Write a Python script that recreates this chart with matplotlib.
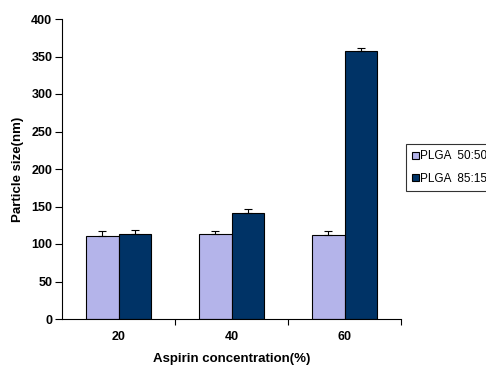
import numpy as np
import matplotlib
matplotlib.use("Agg")
import matplotlib.pyplot as plt

plt.rcParams['font.family'] = ['Liberation Sans', 'DejaVu Sans']

categories = ["20", "40", "60"]
plga_5050 = [111, 114, 112]
plga_5050_err = [6, 4, 5]
plga_8515 = [114, 141, 358]
plga_8515_err = [5, 6, 4]
series_names = ["PLGA  50:50", "PLGA  85:15"]

fig = plt.figure(figsize=(4.86, 3.66), dpi=100)
ax = fig.add_axes([62 / 486, 47 / 366, 339 / 486, 300 / 366])

x = np.arange(len(categories))
w = 0.2875
ekw = dict(elinewidth=0.8, capthick=0.8, ecolor="black")
ax.bar(x - w / 2, plga_5050, w, color="#b4b4ea", edgecolor="black", linewidth=0.8,
       yerr=[np.zeros(3), plga_5050_err], capsize=3, error_kw=ekw, label=series_names[0])
ax.bar(x + w / 2, plga_8515, w, color="#003366", edgecolor="black", linewidth=0.8,
       yerr=[np.zeros(3), plga_8515_err], capsize=3, error_kw=ekw, label=series_names[1])

ax.set_xlim(-0.5, 2.5)
ax.set_ylim(0, 400)
ax.set_yticks(range(0, 401, 50))
ax.set_xticks(x)
ax.set_xticklabels(categories, fontsize=9, fontweight="bold")
ax.set_xticks([0.5, 1.5, 2.5], minor=True)
ax.tick_params(axis="x", which="major", length=0, pad=9)
ax.tick_params(axis="x", which="minor", length=4, width=0.8, direction="out")
ax.tick_params(axis="y", length=5, width=0.8, direction="out", labelsize=9, pad=2)
for lab in ax.get_yticklabels():
    lab.set_fontweight("bold")
for s in ["top", "right"]:
    ax.spines[s].set_visible(False)
for s in ["left", "bottom"]:
    ax.spines[s].set_linewidth(0.8)

ax.set_xlabel("Aspirin concentration(%)", fontsize=9.5, fontweight="bold", labelpad=7)
ax.set_ylabel("Particle size(nm)", fontsize=9.5, fontweight="bold", labelpad=5)

leg = fig.legend(loc="upper left", bbox_to_anchor=(406 / 486, 1 - 144 / 366),
                 fontsize=8.5, frameon=True, fancybox=False, edgecolor="black",
                 handlelength=0.55, handleheight=0.55, handletextpad=0.1,
                 borderpad=0.55, labelspacing=0.85, borderaxespad=0)
leg.get_frame().set_linewidth(0.8)

fig.savefig("out.png", dpi=100)
